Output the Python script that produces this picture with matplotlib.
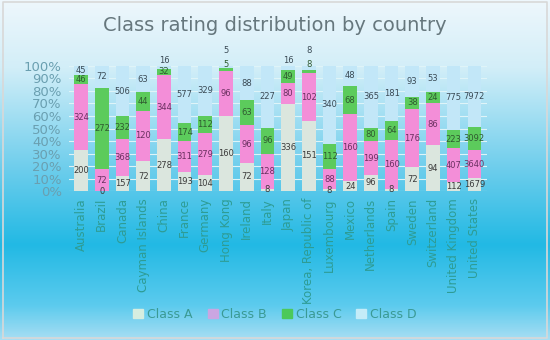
import matplotlib.pyplot as plt
import numpy as np
from matplotlib.patches import Patch
from matplotlib.colors import LinearSegmentedColormap

countries = ["Australia", "Brazil", "Canada", "Cayman Islands", "China", "France",
             "Germany", "Hong Kong", "Ireland", "Italy", "Japan", "Korea, Republic of",
             "Luxembourg", "Mexico", "Netherlands", "Spain", "Sweden", "Switzerland",
             "United Kingdom", "United States"]
class_a = [200, 0, 157, 72, 278, 193, 104, 160, 72, 8, 336, 151, 8, 24, 96, 8, 72, 94, 112, 1679]
class_b = [324, 72, 368, 120, 344, 311, 279, 96, 96, 128, 80, 102, 88, 160, 199, 160, 176, 86, 407, 3640]
class_c = [46, 272, 232, 44, 32, 174, 112, 5, 63, 96, 49, 8, 112, 68, 80, 64, 38, 24, 223, 3092]
class_d = [45, 72, 506, 63, 16, 577, 329, 5, 88, 227, 16, 8, 340, 48, 365, 181, 93, 53, 775, 7972]
series_names = ["Class A", "Class B", "Class C", "Class D"]

colors = ["#dbe6de", "#f38ed8", "#5ccb5c", "#c2e7f8"]
legend_colors = ["#d6eee0", "#caa6e2", "#4cc95a", "#c4ecf8"]

fig = plt.figure(figsize=(5.5, 3.4), dpi=100)

# gradient background
bg = fig.add_axes([0, 0, 1, 1], zorder=-10)
cmap = LinearSegmentedColormap.from_list(
    "bg", [(0, "#eef7fc"), (0.2, "#d2eef8"), (0.5, "#6ccdec"), (0.72, "#22b9e4"),
           (0.9, "#5ccbee"), (1.0, "#a8def3")])
grad = np.linspace(0, 1, 256).reshape(-1, 1)
bg.imshow(grad, aspect="auto", cmap=cmap, extent=[0, 1, 0, 1], origin="upper")
bg.plot([0.005, 0.995, 0.995, 0.005, 0.005], [0.005, 0.005, 0.995, 0.995, 0.005],
        color="#d8d8d8", lw=1.2)
bg.set_xlim(0, 1)
bg.set_ylim(0, 1)
bg.axis("off")

ax = fig.add_axes([0.125, 0.438, 0.76, 0.368])
ax.set_facecolor("none")

data = np.array([class_a, class_b, class_c, class_d], dtype=float)
totals = data.sum(axis=0)
pct = data / totals * 100
x = np.arange(len(countries))
bottom = np.zeros(len(countries))
label_colors = ["#3a3a3a", "#6a3060", "#2f5a30", "#3a4a55"]
for i in range(4):
    ax.bar(x, pct[i], 0.66, bottom=bottom, color=colors[i], edgecolor="none", zorder=3)
    for j in range(len(countries)):
        ypos = bottom[j] + pct[i][j] / 2
        # tiny top segments: push labels apart like the original
        if i == 3 and pct[i][j] < 4:
            ypos = 104 if pct[2][j] > 4 else 112
        elif i == 2 and pct[i][j] < 4:
            ypos = 101.5
        ax.text(x[j], ypos, str(int(data[i][j])), ha="center",
                va="center", fontsize=6, color=label_colors[i], zorder=5, clip_on=False)
    bottom += pct[i]

ax.set_ylim(0, 100)
ax.set_xlim(-0.6, len(countries) - 0.4)
ax.set_yticks(np.arange(0, 101, 10))
ax.set_yticklabels([f"{v}%" for v in range(0, 101, 10)], fontsize=9.5, color="#6a9fb0")
ax.set_xticks(x)
ax.set_xticklabels(countries, rotation=90, fontsize=8.5, color="#2e9c94")
ax.tick_params(length=0, pad=5)
ax.yaxis.grid(True, color="#dff4f8", lw=0.8, zorder=0)
for s in ax.spines.values():
    s.set_visible(False)

fig.text(0.5, 0.925, "Class rating distribution by country", ha="center", va="center",
         fontsize=14, color="#66777d")

handles = [Patch(color=c) for c in legend_colors]
fig.legend(handles, series_names, loc="center", bbox_to_anchor=(0.5, 0.075), ncol=4,
           frameon=False, fontsize=9, handlelength=0.8, handleheight=0.8,
           columnspacing=1.2, handletextpad=0.3, labelcolor="#3a9a94")

fig.savefig("out.png", dpi=100)
